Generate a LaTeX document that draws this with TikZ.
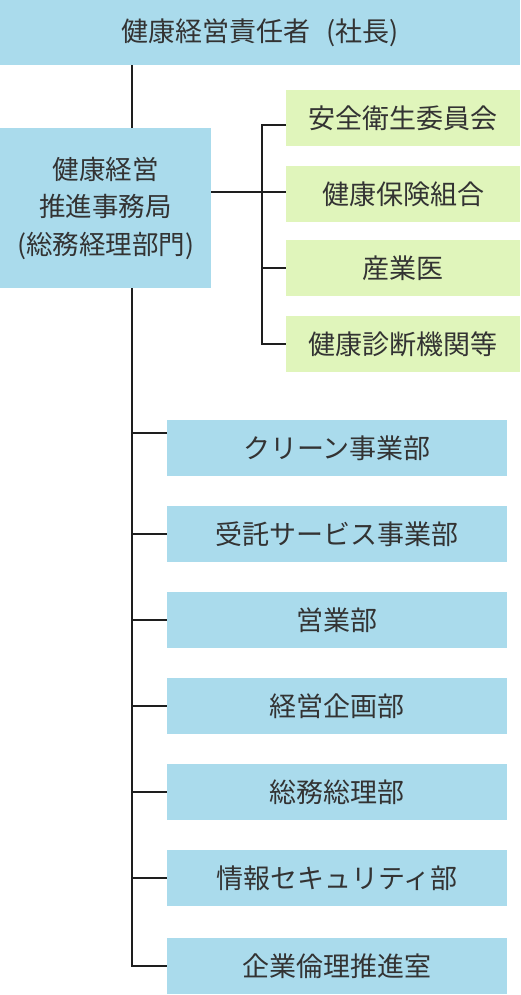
\documentclass[tikz,border=0pt]{standalone}
\usepackage{fontspec}
\setmainfont{Noto Sans CJK JP}
\definecolor{boxblue}{RGB}{170,219,236}
\definecolor{boxgreen}{RGB}{224,245,187}
\definecolor{txt}{RGB}{51,51,51}
\definecolor{linec}{RGB}{30,30,30}
\begin{document}
\begin{tikzpicture}[x=1pt,y=-1pt,
  every node/.style={inner sep=0pt,outer sep=0pt,text=txt,font=\fontsize{27}{37}\selectfont},
  bluebox/.style={fill=boxblue,minimum width=340pt,minimum height=56pt},
  greenbox/.style={fill=boxgreen,minimum width=234pt,minimum height=56pt},
  conn/.style={draw=linec,line width=2pt}]
\useasboundingbox (0,0) rectangle (520,995);
\node[fill=boxblue,minimum width=520pt,minimum height=65pt] (top) at (260,33) {健康経営責任者\hspace{0.6em}(社長)};
\node[fill=boxblue,minimum width=211pt,minimum height=160pt,align=center,font=\fontsize{26.5}{37.5}\selectfont] (office) at (105.5,208) {健康経営\\推進事務局\\(総務経理部門)};
\node[greenbox] (g1) at (403,118) {安全衛生委員会};
\node[greenbox] (g2) at (403,194) {健康保険組合};
\node[greenbox] (g3) at (403,268) {産業医};
\node[greenbox] (g4) at (403,344) {健康診断機関等};
\node[bluebox] (b1) at (337,448) {クリーン事業部};
\node[bluebox] (b2) at (337,534) {受託サービス事業部};
\node[bluebox] (b3) at (337,620) {営業部};
\node[bluebox] (b4) at (337,706) {経営企画部};
\node[bluebox] (b5) at (337,792) {総務総理部};
\node[bluebox] (b6) at (337,878) {情報セキュリティ部};
\node[bluebox] (b7) at (337,966) {企業倫理推進室};
\coordinate (spine) at (132,0);
\coordinate (gx) at (262,0);
\coordinate (b1c) at ([yshift=15pt]b1.west);
\coordinate (g1c) at ([yshift=-7pt]g1.west);
\coordinate (offc) at ([yshift=16pt]office.east);
\draw[conn] (spine |- top.south) -- (spine |- office.north);
\draw[conn] (spine |- office.south) -- (spine |- b7.west) -- (b7.west);
\draw[conn] (spine |- b1c) -- (b1c);
\foreach \b in {b2,b3,b4,b5,b6} \draw[conn] (spine |- \b.west) -- (\b.west);
\draw[conn] (g1c) -| (gx |- g4.west) -- (g4.west);
\draw[conn] (gx |- g3.west) -- (g3.west);
\draw[conn] (offc) -- (offc -| g2.west);
\end{tikzpicture}
\end{document}
